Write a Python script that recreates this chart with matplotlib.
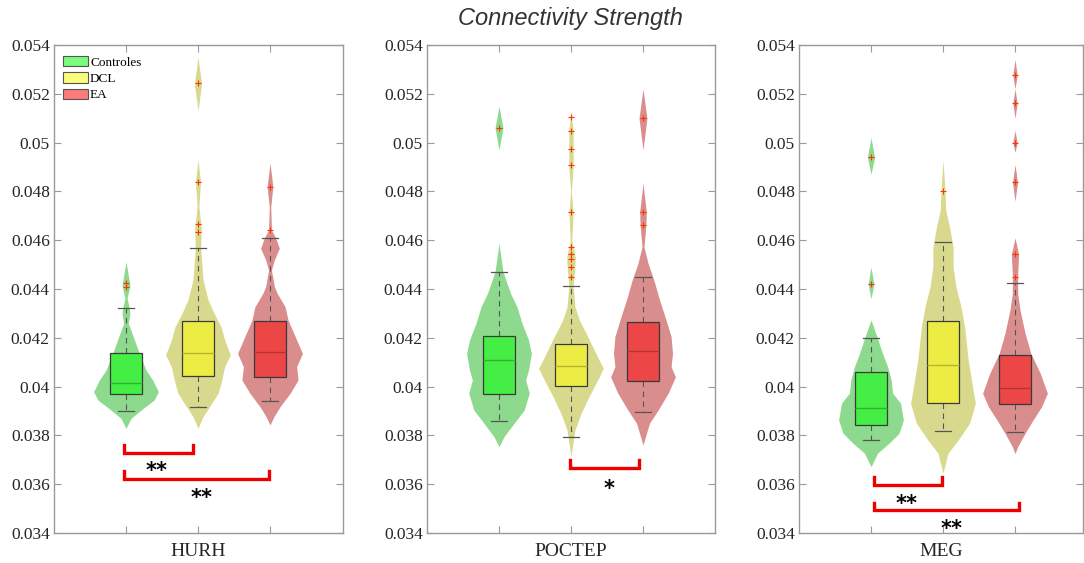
import matplotlib
matplotlib.use('Agg')
import matplotlib.pyplot as plt
from matplotlib.patches import Patch

## Groups and regions ##
groups = ['Controles', 'DCL', 'EA']
regions = ['HURH', 'POCTEP', 'MEG']

## Box statistics (rows: regions, cols: groups) ##
box_q1 = [[0.03971, 0.04045, 0.04040],
          [0.03968, 0.04004, 0.04024],
          [0.03841, 0.03932, 0.03927]]
box_med = [[0.04015, 0.04136, 0.04140],
           [0.04108, 0.04083, 0.04145],
           [0.03911, 0.04087, 0.03993]]
box_q3 = [[0.04139, 0.04268, 0.04268],
          [0.04206, 0.04176, 0.04265],
          [0.04059, 0.04270, 0.04130]]
whisk_lo = [[0.03901, 0.03918, 0.03941],
            [0.03859, 0.03792, 0.03895],
            [0.03781, 0.03817, 0.03815]]
whisk_hi = [[0.04321, 0.04569, 0.04608],
            [0.04471, 0.04412, 0.04450],
            [0.04198, 0.04591, 0.04423]]

## Outliers ##
hurh_outliers = [[0.04423, 0.04407],
                 [0.04632, 0.04665, 0.04840, 0.05243],
                 [0.04642, 0.04819]]
poctep_outliers = [[0.05059],
                   [0.04448, 0.04489, 0.04522, 0.04543, 0.04571, 0.04717,
                    0.04907, 0.04975, 0.05049, 0.05104],
                   [0.04661, 0.04717, 0.05102]]
meg_outliers = [[0.04420, 0.04942],
                [0.04803],
                [0.04450, 0.04543, 0.04837, 0.05000, 0.05161, 0.05277]]

## Violin outlines: value levels and half widths (x units) ##
hurh_violin_y = [
    [0.03829, 0.03870, 0.03904, 0.03945, 0.03979, 0.04027, 0.04068, 0.04136,
     0.04205, 0.04259, 0.04300, 0.04321, 0.04362, 0.04415, 0.04512],
    [0.03829, 0.03877, 0.03918, 0.03973, 0.04027, 0.04082, 0.04130, 0.04191,
     0.04245, 0.04302, 0.04355, 0.04437, 0.04569, 0.04648, 0.04740, 0.04840,
     0.04930, 0.05130, 0.05240, 0.05350],
    [0.03843, 0.03877, 0.03918, 0.03973, 0.04027, 0.04082, 0.04136, 0.04205,
     0.04273, 0.04327, 0.04382, 0.04410, 0.04478, 0.04519, 0.04567, 0.04608,
     0.04642, 0.04737, 0.04819, 0.04916]]
hurh_violin_w = [
    [0, 0.07, 0.21, 0.39, 0.45, 0.37, 0.277, 0.185,
     0.10, 0.032, 0.055, 0.046, 0.015, 0.055, 0],
    [0, 0.07, 0.16, 0.28, 0.33, 0.37, 0.45, 0.37,
     0.32, 0.22, 0.14, 0.07, 0.037, 0.045, 0.012, 0.035,
     0, 0, 0.05, 0],
    [0, 0.055, 0.14, 0.28, 0.39, 0.37, 0.45, 0.35,
     0.25, 0.21, 0.10, 0.06, 0.02, 0.06, 0.13, 0.08,
     0.02, 0.01, 0.04, 0]]

poctep_violin_y = [
    [0.03754, 0.03795, 0.03850, 0.03904, 0.03973, 0.04027, 0.04068, 0.04136,
     0.04191, 0.04259, 0.04327, 0.04382, 0.04471, 0.04587, 0.04970, 0.05060,
     0.05150],
    [0.03713, 0.03754, 0.03822, 0.03890, 0.03959, 0.04027, 0.04075, 0.04109,
     0.04164, 0.04218, 0.04273, 0.04327, 0.04412, 0.04480, 0.04530, 0.04600,
     0.04710, 0.04800, 0.04900, 0.05050, 0.05130],
    [0.03760, 0.03781, 0.03850, 0.03904, 0.03973, 0.04040, 0.04082, 0.04136,
     0.04205, 0.04273, 0.04355, 0.04437, 0.04505, 0.04573, 0.04661, 0.04717,
     0.04833, 0.04970, 0.05100, 0.05220]]
poctep_violin_w = [
    [0, 0.07, 0.21, 0.35, 0.42, 0.37, 0.41, 0.45,
     0.41, 0.32, 0.25, 0.16, 0.055, 0, 0, 0.055,
     0],
    [0, 0.02, 0.055, 0.14, 0.25, 0.37, 0.45, 0.39,
     0.30, 0.21, 0.115, 0.055, 0.03, 0.05, 0.06, 0.01,
     0.03, 0.005, 0.03, 0.03, 0],
    [0, 0.02, 0.09, 0.21, 0.35, 0.45, 0.39, 0.41,
     0.39, 0.32, 0.23, 0.15, 0.07, 0.014, 0.04, 0.046,
     0, 0, 0.055, 0]]

meg_violin_y = [
    [0.03672, 0.03727, 0.03768, 0.03809, 0.03863, 0.03932, 0.03973, 0.04027,
     0.04082, 0.04136, 0.04198, 0.04273, 0.04360, 0.04420, 0.04490, 0.04870,
     0.04940, 0.05020],
    [0.03645, 0.03727, 0.03781, 0.03850, 0.03932, 0.04000, 0.04109, 0.04245,
     0.04327, 0.04409, 0.04491, 0.04573, 0.04655, 0.04724, 0.04803, 0.04929],
    [0.03725, 0.03754, 0.03809, 0.03863, 0.03918, 0.03973, 0.04055, 0.04136,
     0.04218, 0.04314, 0.04382, 0.04457, 0.04543, 0.04610, 0.04760, 0.04836,
     0.04910, 0.04960, 0.05000, 0.05050, 0.05100, 0.05161, 0.05220, 0.05277,
     0.05340]]
meg_violin_w = [
    [0, 0.09, 0.25, 0.39, 0.45, 0.41, 0.30, 0.28,
     0.23, 0.16, 0.09, 0, 0, 0.04, 0, 0,
     0.05, 0],
    [0, 0.07, 0.21, 0.37, 0.45, 0.41, 0.35, 0.30,
     0.25, 0.18, 0.14, 0.14, 0.09, 0.037, 0.028, 0],
    [0, 0.037, 0.14, 0.25, 0.37, 0.45, 0.35, 0.22,
     0.14, 0.07, 0.037, 0.037, 0.05, 0, 0, 0.035,
     0, 0, 0.03, 0, 0, 0.03, 0, 0.03,
     0]]

## Significance brackets: (x1, x2, y_top, y_line) and stars (x, y, text) ##
hurh_brackets = [(0.97, 1.93, 0.03760, 0.03729), (0.97, 2.98, 0.03654, 0.03622)]
hurh_stars = [(1.43, 0.03679, '**'), (2.05, 0.03569, '**')]
poctep_brackets = [(1.99, 2.95, 0.03699, 0.03668)]
poctep_stars = [(2.53, 0.03604, '*')]
meg_brackets = [(1.04, 1.99, 0.03628, 0.03598), (1.04, 3.06, 0.03524, 0.03494)]
meg_stars = [(1.50, 0.03542, '**'), (2.12, 0.03440, '**')]

outliers = [hurh_outliers, poctep_outliers, meg_outliers]
violin_y = [hurh_violin_y, poctep_violin_y, meg_violin_y]
violin_w = [hurh_violin_w, poctep_violin_w, meg_violin_w]
brackets = [hurh_brackets, poctep_brackets, meg_brackets]
stars = [hurh_stars, poctep_stars, meg_stars]

yticks = [0.034, 0.036, 0.038, 0.04, 0.042, 0.044, 0.046, 0.048,
          0.05, 0.052, 0.054]
ytick_labels = ['0.034', '0.036', '0.038', '0.04', '0.042', '0.044',
                '0.046', '0.048', '0.05', '0.052', '0.054']

## Colours ##
violin_colors = ['#8DD98D', '#D9D98D', '#D98D8D']
box_colors = ['#44EE44', '#ECEC44', '#EC4646']
median_colors = ['#2FB42F', '#B5B532', '#B43434']
legend_colors = ['#7CFC7C', '#FCFC7C', '#FC7C7C']

W, H = 1084, 563
fig = plt.figure(figsize=(W / 100, H / 100), dpi=100)

# panel boxes in pixels: left, width
panels_px = [(54, 289), (427, 288), (799, 284)]
top_px, bottom_px = 45, 533

positions = [1, 2, 3]

for k, (left, width) in enumerate(panels_px):
    ax = fig.add_axes([left / W, (H - bottom_px) / H, width / W,
                       (bottom_px - top_px) / H])
    xmax = width / 72.0

    # violins
    for g in range(3):
        ys = violin_y[k][g]
        ws = violin_w[k][g]
        c = positions[g]
        ax.fill_betweenx(ys, [c - w for w in ws], [c + w for w in ws],
                         color=violin_colors[g], linewidth=0, zorder=1)

    # boxplots
    stats = []
    for g in range(3):
        stats.append({'q1': box_q1[k][g], 'med': box_med[k][g],
                      'q3': box_q3[k][g], 'whislo': whisk_lo[k][g],
                      'whishi': whisk_hi[k][g], 'fliers': outliers[k][g]})
    bp = ax.bxp(stats, positions=positions, widths=0.44, capwidths=0.21,
                patch_artist=True, showfliers=True, manage_ticks=False,
                boxprops=dict(edgecolor='#3a3a3a', linewidth=0.9),
                whiskerprops=dict(color='#555555', linestyle=(0, (5, 4)),
                                  linewidth=0.8),
                capprops=dict(color='#555555', linewidth=0.9),
                flierprops=dict(marker='+', markeredgecolor='#FF3300',
                                markersize=5, markeredgewidth=0.8),
                medianprops=dict(linewidth=1.0))
    for g in range(3):
        bp['boxes'][g].set_facecolor(box_colors[g])
        bp['boxes'][g].set_zorder(3)
        bp['medians'][g].set_color(median_colors[g])
        bp['medians'][g].set_zorder(4)

    # significance brackets
    for (x1, x2, yt, yl) in brackets[k]:
        ax.plot([x1, x1, x2, x2], [yt, yl, yl, yt], color='#EE0000',
                linewidth=2.4, solid_joinstyle='miter', zorder=5)
    for (xs, ys, s) in stars[k]:
        ax.annotate(s, xy=(xs, ys), xytext=(0, -8.5), textcoords='offset points',
                    ha='center', va='baseline', fontsize=15, fontweight='bold',
                    family='DejaVu Sans', color='black')

    ax.set_xlim(0, xmax)
    ax.set_ylim(0.034, 0.054)
    ax.set_xticks(positions)
    ax.set_xticklabels(['', '', ''])
    ax.set_yticks(yticks)
    ax.set_yticklabels(ytick_labels, family='Liberation Serif', fontsize=12.5)
    ax.tick_params(direction='in', top=True, right=True, length=5,
                   color='#9a9a9a', labelcolor='#262626', pad=3)
    for sp in ax.spines.values():
        sp.set_color('#9a9a9a')
        sp.set_linewidth(1.0)

    ax.text(0.5, -(552 - bottom_px) / (bottom_px - top_px), regions[k],
            transform=ax.transAxes, ha='center', va='center',
            family='Liberation Serif', fontsize=14, color='#262626')

    if k == 0:
        handles = [Patch(facecolor=legend_colors[g], edgecolor='#555555',
                         linewidth=0.8) for g in range(3)]
        ax.legend(handles, groups, loc='upper left',
                  bbox_to_anchor=(0.031, 0.978), frameon=False,
                  prop={'family': 'Liberation Serif', 'size': 9.5},
                  handlelength=1.9, handleheight=0.85, labelspacing=0.27,
                  handletextpad=0.15, borderpad=0, borderaxespad=0)

fig.text(570 / W, 1 - 18 / H, 'Connectivity Strength', ha='center',
         va='center', family='Liberation Sans', style='italic', fontsize=17,
         color='#333333')

fig.savefig('out.png', dpi=100)
